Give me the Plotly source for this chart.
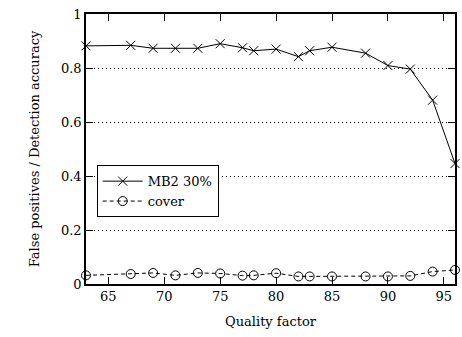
import plotly.graph_objects as go

quality = [63, 67, 69, 71, 73, 75, 77, 78, 80, 82, 83, 85, 88, 90, 92, 94, 96]
mb2_30 = [0.882, 0.884, 0.873, 0.873, 0.873, 0.890, 0.875, 0.864, 0.870, 0.842, 0.864,
          0.877, 0.855, 0.809, 0.796, 0.681, 0.446]
cover = [0.032, 0.037, 0.041, 0.032, 0.041, 0.039, 0.031, 0.032, 0.040, 0.028, 0.028,
         0.028, 0.028, 0.028, 0.030, 0.046, 0.052]
x_ticks = [65, 70, 75, 80, 85, 90, 95]
y_ticks = [0, 0.2, 0.4, 0.6, 0.8, 1]
y_tick_labels = ["0", "0.2", "0.4", "0.6", "0.8", "1"]

FONT = "DejaVu Serif"

fig = go.Figure()
fig.add_trace(go.Scatter(
    x=quality, y=mb2_30, name="MB2 30%", mode="lines+markers",
    line=dict(color="black", width=1),
    marker=dict(symbol="x-thin-open", size=9, color="black", line=dict(width=1, color="black")),
    cliponaxis=False,
))
fig.add_trace(go.Scatter(
    x=quality, y=cover, name="cover", mode="lines+markers",
    line=dict(color="black", width=1, dash="4px,3px"),
    marker=dict(symbol="circle-open", size=9, color="black", line=dict(width=1, color="black")),
    cliponaxis=False,
))

fig.update_layout(
    width=462, height=337,
    margin=dict(l=86, r=5, t=14, b=53),
    paper_bgcolor="white", plot_bgcolor="white",
    font=dict(family=FONT, size=13, color="black"),
    showlegend=True,
    legend=dict(
        x=0.029, y=0.44, xanchor="left", yanchor="top",
        bgcolor="white", bordercolor="black", borderwidth=1,
        font=dict(family=FONT, size=13),
        tracegroupgap=0, itemwidth=40,
    ),
)
fig.update_xaxes(
    range=[63, 96], tickvals=x_ticks, ticks="inside", ticklen=7, tickcolor="black",
    showline=True, linecolor="black", linewidth=1.5, mirror="ticks",
    showgrid=False, zeroline=False,
    title=dict(text="Quality factor", font=dict(family=FONT, size=13), standoff=14),
    tickfont=dict(family=FONT, size=13),
)
fig.update_yaxes(
    range=[0, 1], tickvals=y_ticks, ticktext=y_tick_labels, ticks="inside", ticklen=7, tickcolor="black",
    showline=True, linecolor="black", linewidth=1.5, mirror="ticks",
    showgrid=True, gridcolor="black", gridwidth=1, griddash="1px,3px",
    zeroline=False,
    title=dict(text="False positives / Detection accuracy", font=dict(family=FONT, size=13), standoff=18),
    tickfont=dict(family=FONT, size=13),
)

fig.write_html("out.html")
